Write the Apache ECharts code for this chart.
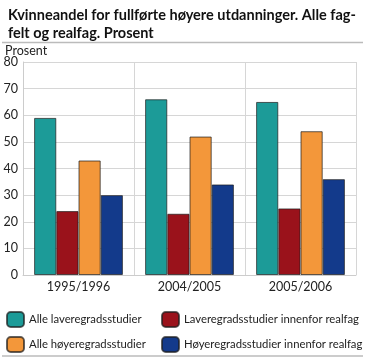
<!DOCTYPE html>
<html><head><meta charset="utf-8">
<script src="https://cdn.jsdelivr.net/npm/echarts@6/dist/echarts.min.js"></script>
<style>html,body{margin:0;padding:0;background:#fff}#c{width:365px;height:357px}</style>
</head><body><div id="c"></div>
<script>
const categories = ['1995/1996', '2004/2005', '2005/2006'];
const seriesNames = ['Alle laveregradsstudier', 'Laveregradsstudier innenfor realfag', 'Alle høyeregradsstudier', 'Høyeregradsstudier innenfor realfag'];
const alleLavere = [59, 66, 65];
const laverRealfag = [24, 23, 25];
const alleHoyere = [43, 52, 54];
const hoyereRealfag = [30, 34, 36];
const colors = ['#1c9b98', '#9a121b', '#f3973a', '#133a8b'];
const values = [alleLavere, laverRealfag, alleHoyere, hoyereRealfag];
const font = 'Lato, sans-serif';
const legendPos = [[1, 306], [156, 306], [1, 331], [156, 331]];

const chart = echarts.init(document.getElementById('c'), null, {renderer: 'canvas'});
chart.setOption({
  animation: false,
  textStyle: {fontFamily: font},
  title: {
    text: 'Kvinneandel for fullførte høyere utdanninger. Alle fag-\nfelt og realfag. Prosent',
    left: 3, top: 1,
    textStyle: {fontFamily: font, fontSize: 14.5, fontWeight: 'bold', color: '#111', lineHeight: 18}
  },
  graphic: [
    {type: 'line', shape: {x1: 2, y1: 42.5, x2: 363, y2: 42.5}, style: {stroke: '#bbb', lineWidth: 1.5}},
    {type: 'line', shape: {x1: 2, y1: 356, x2: 363, y2: 356}, style: {stroke: '#bbb', lineWidth: 1.5}},
    {type: 'text', left: 5, top: 44, style: {text: 'Prosent', font: '12.5px ' + font, fill: '#222'}}
  ],
  legend: seriesNames.map((n, i) => ({
    left: legendPos[i][0], top: legendPos[i][1], itemWidth: 17, itemHeight: 15,
    data: [n], textStyle: {fontSize: 11.3, color: '#222', fontFamily: font}
  })),
  grid: {left: 23, right: 9, top: 62, bottom: 82},
  xAxis: {
    type: 'category', data: categories,
    axisLine: {lineStyle: {color: '#ccc'}},
    axisTick: {show: false},
    axisLabel: {color: '#222', fontSize: 12.5, margin: 5},
    splitLine: {show: true, lineStyle: {color: '#d6d6d6'}}
  },
  yAxis: {
    type: 'value', min: 0, max: 80, interval: 10,
    axisLine: {show: true, lineStyle: {color: '#ccc'}},
    axisTick: {show: false},
    axisLabel: {color: '#222', fontSize: 12.5, margin: 5},
    splitLine: {lineStyle: {color: '#d6d6d6'}}
  },
  series: seriesNames.map((n, i) => ({
    name: n, type: 'bar', data: values[i],
    barGap: '0%', barCategoryGap: '20%',
    itemStyle: {color: colors[i], borderColor: 'rgba(30,30,30,0.7)', borderWidth: 1}
  }))
});
</script></body></html>
